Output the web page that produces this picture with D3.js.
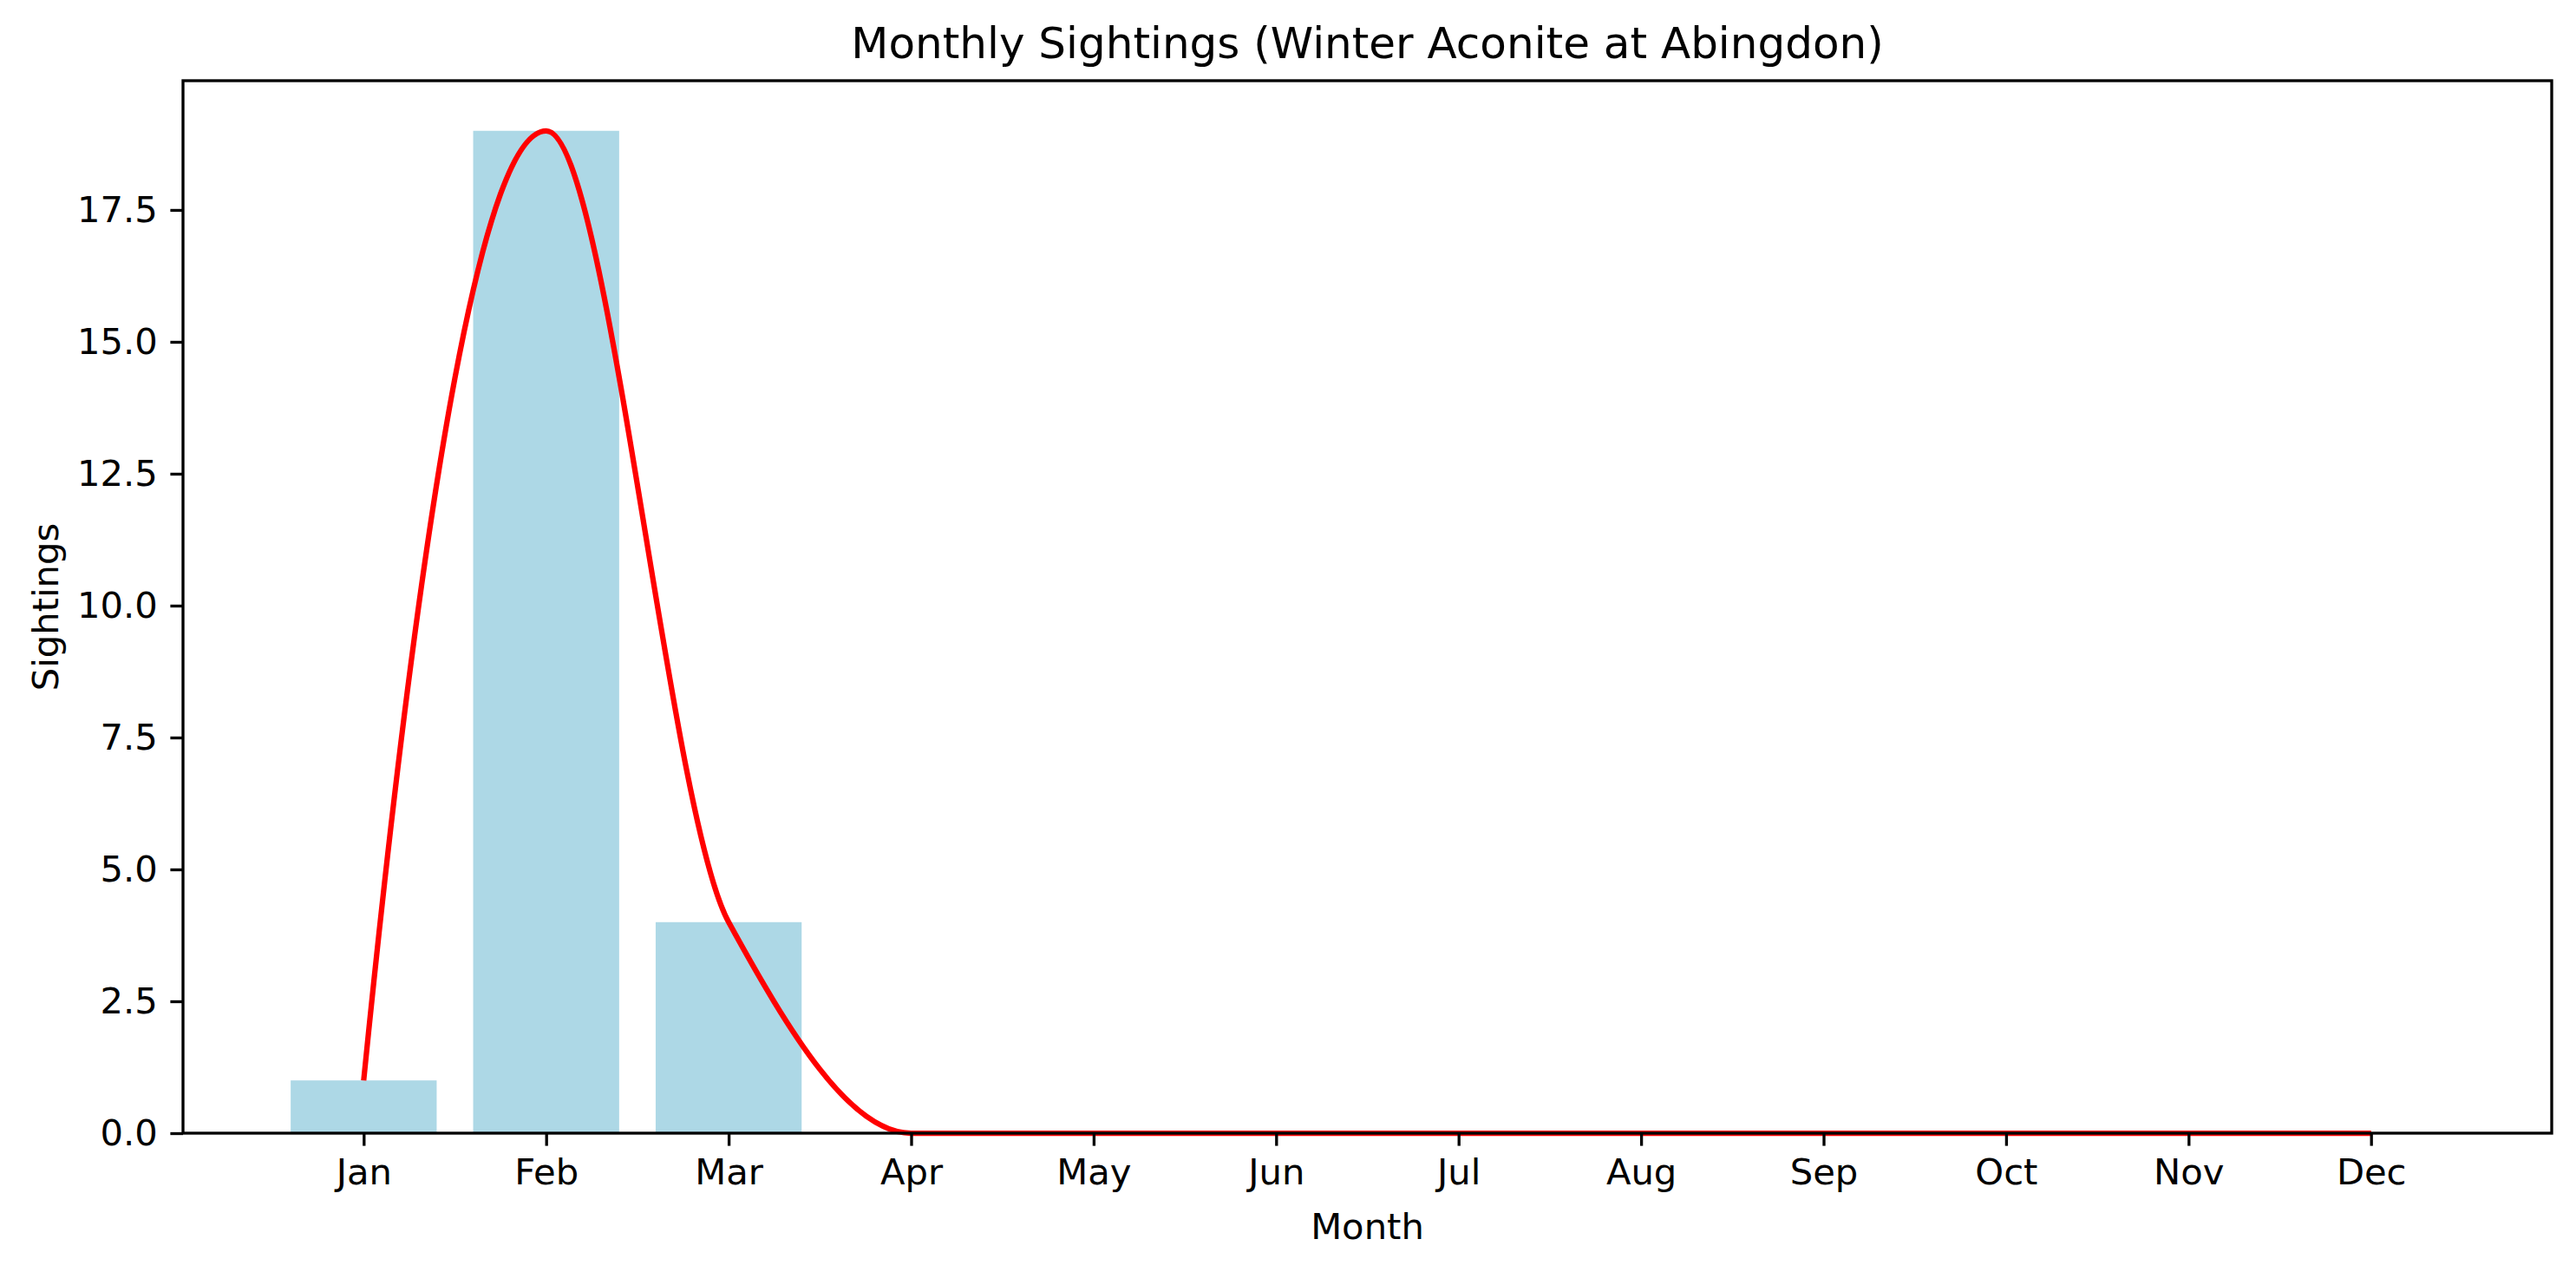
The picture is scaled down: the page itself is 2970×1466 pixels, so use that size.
<!DOCTYPE html>
<html>
<head>
<meta charset="utf-8">
<script src="https://cdn.jsdelivr.net/npm/d3@7"></script>
<style>
  body { margin: 0; background: #fff; }
  text { font-family: "DejaVu Sans", sans-serif; fill: #000; }
</style>
</head>
<body>
<div id="chart"></div>
<script>
const months = ["Jan", "Feb", "Mar", "Apr", "May", "Jun", "Jul", "Aug", "Sep", "Oct", "Nov", "Dec"];
const sightings = [1, 19, 4, 0, 0, 0, 0, 0, 0, 0, 0, 0];
const yTicks = [0, 2.5, 5, 7.5, 10, 12.5, 15, 17.5];
const chartTitle = "Monthly Sightings (Winter Aconite at Abingdon)";

const width = 2970, height = 1466;
const plotL = 211, plotR = 2942, plotT = 93, plotB = 1306;
const tickFont = 41.7, lw = 3.33;

// PCHIP-style curve for d3.line (Fritsch-Carlson tangents, scipy end rule)
function curvePchip(context) {
  let pts;
  return {
    areaStart() {}, areaEnd() {},
    lineStart() { pts = []; },
    point(px, py) { pts.push([+px, +py]); },
    lineEnd() {
      const n = pts.length;
      if (!n) return;
      context.moveTo(pts[0][0], pts[0][1]);
      if (n === 1) return;
      const h = [], s = [];
      for (let k = 0; k < n - 1; k++) {
        h.push(pts[k + 1][0] - pts[k][0]);
        s.push((pts[k + 1][1] - pts[k][1]) / h[k]);
      }
      const d = new Array(n).fill(0);
      if (n === 2) { d[0] = d[1] = s[0]; }
      else {
        for (let k = 1; k < n - 1; k++) {
          if (s[k - 1] === 0 || s[k] === 0 || Math.sign(s[k - 1]) !== Math.sign(s[k])) d[k] = 0;
          else {
            const w1 = 2 * h[k] + h[k - 1], w2 = h[k] + 2 * h[k - 1];
            d[k] = (w1 + w2) / (w1 / s[k - 1] + w2 / s[k]);
          }
        }
        const edge = (h0, h1, m0, m1) => {
          let e = ((2 * h0 + h1) * m0 - h0 * m1) / (h0 + h1);
          if (Math.sign(e) !== Math.sign(m0)) e = 0;
          else if (Math.sign(m0) !== Math.sign(m1) && Math.abs(e) > Math.abs(3 * m0)) e = 3 * m0;
          return e;
        };
        d[0] = edge(h[0], h[1], s[0], s[1]);
        d[n - 1] = edge(h[n - 2], h[n - 3], s[n - 2], s[n - 3]);
      }
      for (let k = 0; k < n - 1; k++) {
        const t = h[k] / 3;
        context.bezierCurveTo(
          pts[k][0] + t, pts[k][1] + d[k] * t,
          pts[k + 1][0] - t, pts[k + 1][1] - d[k + 1] * t,
          pts[k + 1][0], pts[k + 1][1]);
      }
    }
  };
}

const svg = d3.select("#chart").append("svg")
  .attr("width", width)
  .attr("height", height);

// matplotlib style 5% margins
const barW = 0.8;
const xLo = -barW / 2, xHi = months.length - 1 + barW / 2;
const xPad = (xHi - xLo) * 0.05;
const x = d3.scaleLinear().domain([xLo - xPad, xHi + xPad]).range([plotL, plotR]);
const y = d3.scaleLinear().domain([0, d3.max(sightings) * 1.05]).range([plotB, plotT]);

const data = months.map((m, i) => ({ i: i, m: m, v: sightings[i] }));

svg.append("g").selectAll("rect")
  .data(data)
  .enter()
  .append("rect")
  .attr("x", d => x(d.i - barW / 2))
  .attr("width", d => x(d.i + barW / 2) - x(d.i - barW / 2))
  .attr("y", d => y(d.v))
  .attr("height", d => y(0) - y(d.v))
  .attr("fill", "#add8e6");

const line = d3.line()
  .x(d => x(d.i))
  .y(d => y(d.v))
  .curve(curvePchip);

svg.append("path")
  .datum(data)
  .attr("d", line)
  .attr("fill", "none")
  .attr("stroke", "red")
  .attr("stroke-width", 6.25)
  .attr("stroke-linejoin", "round");

const xAxis = svg.append("g")
  .attr("transform", "translate(0," + plotB + ")")
  .call(d3.axisBottom(x)
    .tickValues(d3.range(months.length))
    .tickFormat(i => months[i])
    .tickSize(14.6)
    .tickPadding(14.6));

const yAxis = svg.append("g")
  .attr("transform", "translate(" + plotL + ",0)")
  .call(d3.axisLeft(y)
    .tickValues(yTicks)
    .tickFormat(d3.format(".1f"))
    .tickSize(14.6)
    .tickPadding(14.6));

[xAxis, yAxis].forEach(function(a) {
  a.select(".domain").remove();
  a.selectAll(".tick line").attr("stroke", "#000").attr("stroke-width", lw);
  a.selectAll(".tick text")
    .attr("font-size", tickFont)
    .attr("font-family", "DejaVu Sans");
});

svg.append("rect")
  .attr("x", plotL)
  .attr("y", plotT)
  .attr("width", plotR - plotL)
  .attr("height", plotB - plotT)
  .attr("fill", "none")
  .attr("stroke", "#000")
  .attr("stroke-width", lw);

svg.append("text")
  .attr("x", (plotL + plotR) / 2)
  .attr("y", 67)
  .attr("text-anchor", "middle")
  .attr("font-size", 50)
  .text(chartTitle);

svg.append("text")
  .attr("x", (plotL + plotR) / 2)
  .attr("y", 1428)
  .attr("text-anchor", "middle")
  .attr("font-size", tickFont)
  .text("Month");

svg.append("text")
  .attr("transform", "translate(67," + (plotT + plotB) / 2 + ") rotate(-90)")
  .attr("text-anchor", "middle")
  .attr("font-size", tickFont)
  .text("Sightings");
</script>
</body>
</html>
